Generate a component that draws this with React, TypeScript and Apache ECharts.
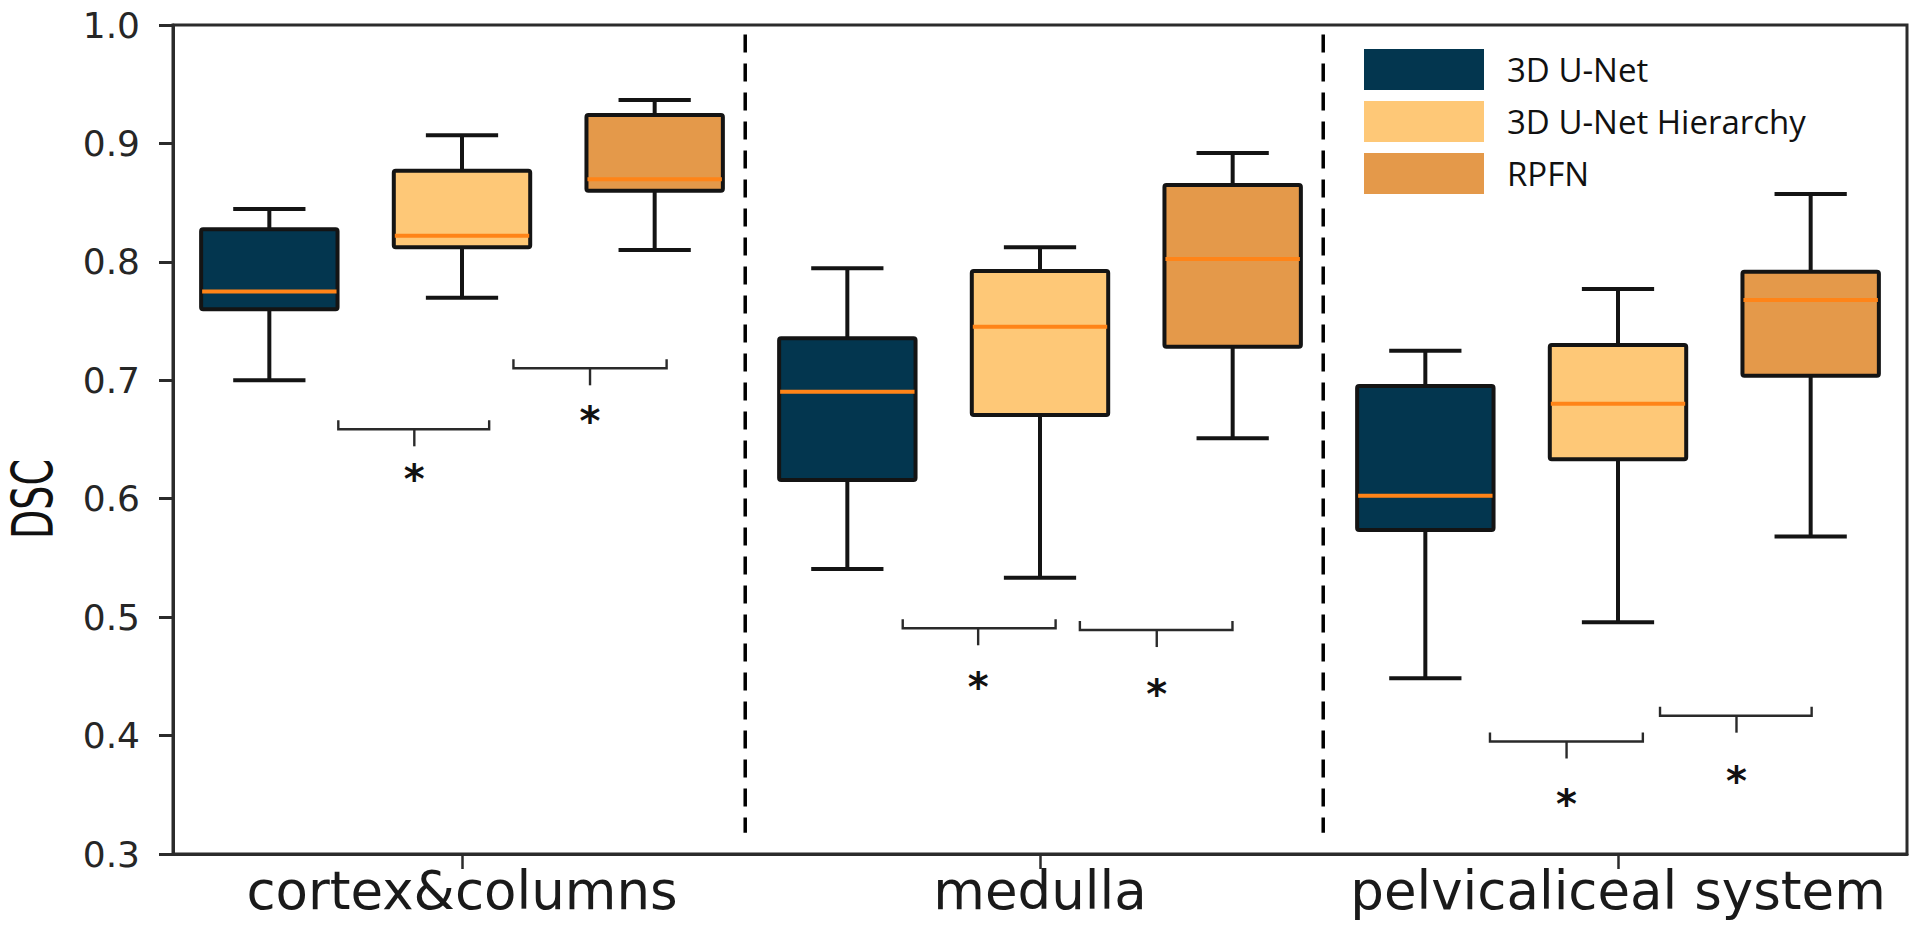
import React, { useEffect, useRef } from "react";
import * as echarts from "echarts";

// ---------- data ----------
const categories = ["cortex&columns", "medulla", "pelvicaliceal system"];
const methods = ["3D U-Net", "3D U-Net Hierarchy", "RPFN"];
const yTicks = [0.3, 0.4, 0.5, 0.6, 0.7, 0.8, 0.9, 1.0];

// [lower whisker, Q1, median, Q3, upper whisker] per category
const unet = [
  [0.700, 0.760, 0.775, 0.8275, 0.8446],
  [0.5407, 0.6158, 0.6904, 0.7354, 0.7945],
  [0.4483, 0.5736, 0.6026, 0.6952, 0.725],
];
const unetHierarchy = [
  [0.7697, 0.8123, 0.822, 0.877, 0.907],
  [0.5333, 0.6707, 0.7452, 0.7923, 0.8123],
  [0.4956, 0.6333, 0.6802, 0.7298, 0.777],
];
const rpfn = [
  [0.81, 0.860, 0.8697, 0.924, 0.9367],
  [0.651, 0.7284, 0.8024, 0.8649, 0.892],
  [0.568, 0.7038, 0.7678, 0.7917, 0.8573],
];

// significance brackets (x in category units, 1 = first category)
const bracketLeft = [0.786, 1.089, 1.7625, 2.069, 2.7785, 3.0727];
const bracketRight = [1.047, 1.354, 2.027, 2.333, 3.043, 3.335];
const bracketMid = [0.9175, 1.2215, 1.893, 2.202, 2.911, 3.205];
const bracketLevel = [0.6586, 0.7101, 0.4906, 0.4891, 0.395, 0.4168];
const bracketStar = [0.624, 0.6735, 0.4486, 0.4427, 0.35, 0.3695];

// dashed separators between categories
const separatorX = [1.49, 2.49];
const separatorTop = 0.992;
const separatorBottom = 0.318;

// ---------- layout / style ----------
const boxOffsets = [-1 / 3, 0, 1 / 3];
const BOX_WIDTH = 0.236;
const CAP_WIDTH = 0.125;
const colors = ["#03364F", "#FEC877", "#E4994A"];
const MEDIAN = "#FF8418";
const INK = "#141414";

const seriesValues = [unet, unetHierarchy, rpfn];

function boxRender(fill: string) {
  return (params: any, api: any) => {
    const x = api.value(0);
    const lo = api.coord([x, api.value(1)]);
    const q1 = api.coord([x, api.value(2)]);
    const md = api.coord([x, api.value(3)]);
    const q3 = api.coord([x, api.value(4)]);
    const hi = api.coord([x, api.value(5)]);
    const w = api.size([BOX_WIDTH, 0])[0];
    const cw = api.size([CAP_WIDTH, 0])[0];
    const cx = lo[0];
    const lw = 4;
    const ls = { stroke: INK, lineWidth: lw };
    return {
      type: "group",
      children: [
        { type: "line", shape: { x1: cx, y1: lo[1], x2: cx, y2: q1[1] }, style: ls },
        { type: "line", shape: { x1: cx, y1: q3[1], x2: cx, y2: hi[1] }, style: ls },
        { type: "line", shape: { x1: cx - cw / 2, y1: lo[1], x2: cx + cw / 2, y2: lo[1] }, style: ls },
        { type: "line", shape: { x1: cx - cw / 2, y1: hi[1], x2: cx + cw / 2, y2: hi[1] }, style: ls },
        {
          type: "rect",
          shape: { x: cx - w / 2, y: q3[1], width: w, height: q1[1] - q3[1], r: 2 },
          style: { fill, stroke: INK, lineWidth: lw },
        },
        {
          type: "line",
          shape: { x1: cx - w / 2 + 1, y1: md[1], x2: cx + w / 2 - 1, y2: md[1] },
          style: { stroke: MEDIAN, lineWidth: 4 },
        },
      ],
    };
  };
}

function bracketRender(params: any, api: any) {
  const l = api.coord([api.value(0), api.value(3)]);
  const r = api.coord([api.value(1), api.value(3)]);
  const m = api.coord([api.value(2), api.value(3)]);
  const s = api.coord([api.value(2), api.value(4)]);
  const stroke = "#2a2a2a";
  return {
    type: "group",
    children: [
      {
        type: "polyline",
        shape: { points: [[l[0], l[1] - 9], [l[0], l[1]], [r[0], r[1]], [r[0], r[1] - 9]] },
        style: { stroke, lineWidth: 2.4, fill: "none" },
      },
      { type: "line", shape: { x1: m[0], y1: m[1], x2: m[0], y2: m[1] + 17 }, style: { stroke, lineWidth: 2.4 } },
      {
        type: "text",
        x: s[0],
        y: s[1] + 9,
        style: {
          text: "*",
          fontSize: 40,
          fontWeight: "bold",
          fontFamily: "DejaVu Sans",
          fill: "#111",
          align: "center",
          verticalAlign: "middle",
        },
      },
    ],
  };
}

function separatorRender(params: any, api: any) {
  const t = api.coord([api.value(0), api.value(1)]);
  const b = api.coord([api.value(0), api.value(2)]);
  return {
    type: "line",
    shape: { x1: t[0], y1: t[1], x2: b[0], y2: b[1] },
    style: { stroke: "#000", lineWidth: 3.5, lineDash: [18, 11] },
  };
}

export default function App() {
  const ref = useRef<HTMLDivElement>(null);
  useEffect(() => {
    if (!ref.current) return;
    const chart = echarts.init(ref.current, undefined, { renderer: "svg" });

    const boxSeries = methods.map((name, i) => ({
      name,
      type: "custom",
      xAxisIndex: 1,
      yAxisIndex: 0,
      itemStyle: { color: colors[i] },
      renderItem: boxRender(colors[i]),
      encode: { x: 0, y: [1, 2, 3, 4, 5] },
      data: categories.map((_, ci) => [ci + 1 + boxOffsets[i], ...seriesValues[i][ci]]),
      z: 3,
    }));

    const option: any = {
      animation: false,
      backgroundColor: "#fff",
      grid: {
        left: 173,
        top: 25,
        width: 1734,
        height: 829,
        show: true,
        borderColor: "#2b2b2b",
        borderWidth: 3,
      },
      legend: {
        orient: "vertical",
        left: 1364,
        top: 49,
        padding: 0,
        itemWidth: 120,
        itemHeight: 41,
        itemGap: 11,
        icon: "rect",
        selectedMode: false,
        textStyle: {
          fontFamily: "Open Sans",
          fontSize: 33,
          color: "#111",
          padding: [0, 0, 0, 18],
        },
        data: methods.map((m, i) => ({ name: m, itemStyle: { color: colors[i], borderWidth: 0 } })),
      },
      xAxis: [
        {
          type: "category",
          data: categories,
          position: "bottom",
          axisLine: { show: true, lineStyle: { color: "#2b2b2b", width: 3 } },
          axisTick: { show: true, alignWithLabel: true, length: 15, lineStyle: { color: "#2b2b2b", width: 2.5 } },
          axisLabel: {
            interval: 0,
            fontFamily: "DejaVu Sans",
            fontSize: 53,
            color: "#1a1a1a",
            margin: 10,
          },
          splitLine: { show: false },
        },
        {
          type: "value",
          min: 0.5,
          max: 3.5,
          show: false,
          splitLine: { show: false },
        },
      ],
      yAxis: {
        type: "value",
        min: yTicks[0],
        max: yTicks[yTicks.length - 1],
        interval: 0.1,
        axisLine: { show: true, lineStyle: { color: "#2b2b2b", width: 3 } },
        axisTick: { show: true, length: 14, lineStyle: { color: "#2b2b2b", width: 3 } },
        axisLabel: {
          fontFamily: "DejaVu Sans",
          fontSize: 36,
          color: "#262626",
          margin: 33,
          formatter: (v: number) => v.toFixed(1),
        },
        splitLine: { show: false },
      },
      graphic: [
        {
          type: "text",
          x: 34,
          y: 499,
          rotation: Math.PI / 2,
          scaleX: 0.68,
          style: {
            text: "DSC",
            fontFamily: "DejaVu Sans",
            fontSize: 56,
            fill: "#111",
            align: "center",
            verticalAlign: "middle",
          },
        },
      ],
      series: [
        ...boxSeries,
        {
          name: "brackets",
          type: "custom",
          xAxisIndex: 1,
          yAxisIndex: 0,
          renderItem: bracketRender,
          encode: { x: [0, 1, 2], y: [3, 4] },
          data: bracketLeft.map((l, i) => [l, bracketRight[i], bracketMid[i], bracketLevel[i], bracketStar[i]]),
          z: 2,
        },
        {
          name: "separators",
          type: "custom",
          xAxisIndex: 1,
          yAxisIndex: 0,
          renderItem: separatorRender,
          encode: { x: 0, y: [1, 2] },
          data: separatorX.map((x) => [x, separatorTop, separatorBottom]),
          z: 1,
        },
      ],
    };
    chart.setOption(option);
    return () => chart.dispose();
  }, []);

  return (
    <div
      ref={ref}
      style={{ position: "fixed", left: 0, top: 0, width: 1920, height: 947, background: "#fff" }}
    />
  );
}
